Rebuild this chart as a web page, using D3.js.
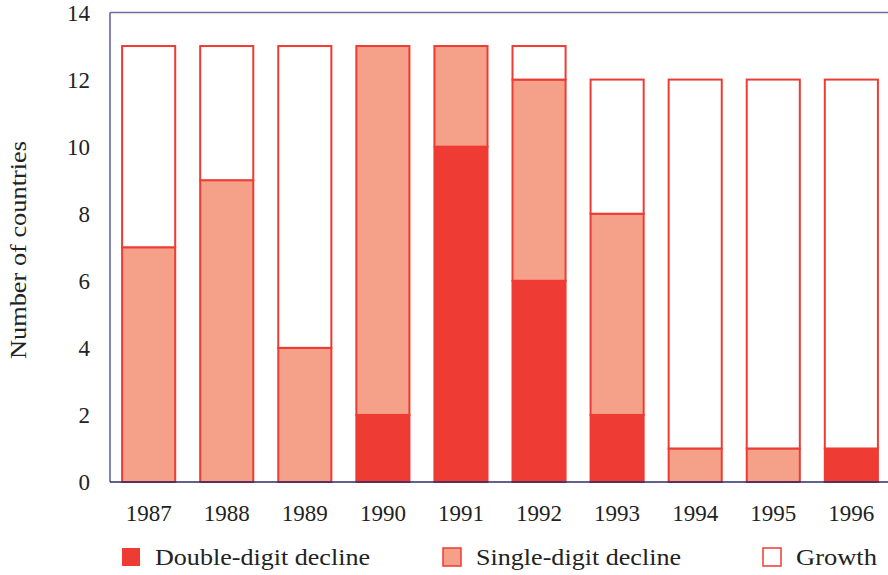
<!DOCTYPE html>
<html>
<head>
<meta charset="utf-8">
<script src="https://cdn.jsdelivr.net/npm/d3@7"></script>
<style>
  body { margin: 0; background: #fff; }
  text { font-family: "Liberation Serif", "DejaVu Serif", serif; fill: #222; }
</style>
</head>
<body>
<div id="chart"></div>
<script>
var years = ["1987", "1988", "1989", "1990", "1991", "1992", "1993", "1994", "1995", "1996"];
var doubleDigit = [0, 0, 0, 2, 10, 6, 2, 0, 0, 1];
var singleDigit = [7, 9, 4, 11, 3, 6, 6, 1, 1, 0];
var growth = [6, 4, 9, 0, 0, 1, 4, 11, 11, 11];
var seriesNames = ["Double-digit decline", "Single-digit decline", "Growth"];
var yTicks = [0, 2, 4, 6, 8, 10, 12, 14];

var width = 888, height = 575;
var colors = ["#ee3b33", "#f5a088", "#ffffff"];
var stroke = "#ee3b33";

var svg = d3.select("#chart").append("svg")
    .attr("width", width)
    .attr("height", height);

var x = d3.scaleBand()
    .domain(years)
    .range([110, 890])
    .paddingInner(0.32)
    .paddingOuter(0.155);

var y = d3.scaleLinear()
    .domain([0, 14])
    .range([482, 12.5]);

var table = years.map(function (yr, i) {
    return {year: yr, d: doubleDigit[i], s: singleDigit[i], g: growth[i]};
});

var stack = d3.stack().keys(["d", "s", "g"])(table);

// frame
svg.append("line")
    .attr("x1", 110).attr("x2", width)
    .attr("y1", y(14)).attr("y2", y(14))
    .attr("stroke", "#6e6e9c").attr("stroke-width", 1.5);
svg.append("line")
    .attr("x1", 110).attr("x2", 110)
    .attr("y1", y(14)).attr("y2", y(0))
    .attr("stroke", "#5a5a90").attr("stroke-width", 1.5);

// bars
stack.forEach(function (layer, k) {
    svg.append("g").selectAll("rect")
        .data(layer.filter(function (d) { return d[1] > d[0]; }))
        .enter()
        .append("rect")
        .attr("x", function (d) { return x(d.data.year); })
        .attr("width", x.bandwidth())
        .attr("y", function (d) { return y(d[1]); })
        .attr("height", function (d) { return y(d[0]) - y(d[1]); })
        .attr("fill", colors[k])
        .attr("stroke", stroke)
        .attr("stroke-width", 2);
});

// bottom axis line
svg.append("line")
    .attr("x1", 110).attr("x2", width)
    .attr("y1", y(0)).attr("y2", y(0))
    .attr("stroke", "#2d2d66").attr("stroke-width", 1.5);

// y tick labels
svg.append("g").selectAll("text")
    .data(yTicks)
    .enter()
    .append("text")
    .attr("x", 90)
    .attr("y", function (d) { return y(d); })
    .attr("dy", "0.35em")
    .attr("text-anchor", "end")
    .style("font-size", "23px")
    .text(function (d) { return d; });

// x tick labels
svg.append("g").selectAll("text")
    .data(years)
    .enter()
    .append("text")
    .attr("x", function (d) { return x(d) + x.bandwidth() / 2; })
    .attr("y", 521)
    .attr("text-anchor", "middle")
    .style("font-size", "23px")
    .text(function (d) { return d; });

// y axis title
svg.append("text")
    .attr("transform", "translate(26,250) rotate(-90)")
    .attr("text-anchor", "middle")
    .attr("textLength", 218)
    .attr("lengthAdjust", "spacingAndGlyphs")
    .style("font-size", "23px")
    .text("Number of countries");

// legend
var legendX = [122, 443, 763];
var legendLen = [215, 205, 81];
var legend = svg.append("g").selectAll("g")
    .data(seriesNames)
    .enter()
    .append("g")
    .attr("transform", function (d, i) { return "translate(" + legendX[i] + ",548)"; });

legend.append("rect")
    .attr("width", 18).attr("height", 18)
    .attr("fill", function (d, i) { return colors[i]; })
    .attr("stroke", function (d, i) { return i === 0 ? "none" : stroke; })
    .attr("stroke-width", 1.5);

legend.append("text")
    .attr("x", 33)
    .attr("y", 17)
    .attr("textLength", function (d, i) { return legendLen[i]; })
    .attr("lengthAdjust", "spacingAndGlyphs")
    .style("font-size", "23px")
    .text(function (d) { return d; });
</script>
</body>
</html>
